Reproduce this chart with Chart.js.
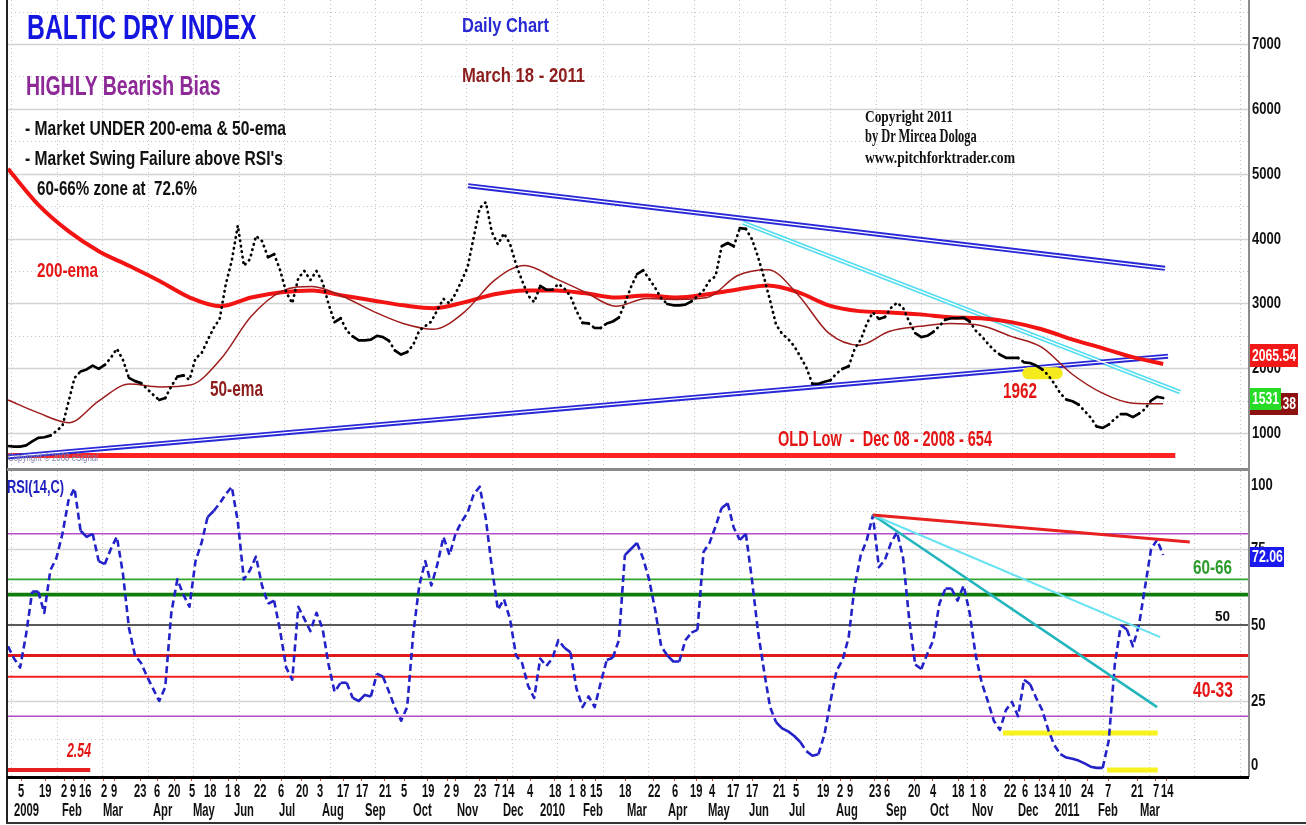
<!DOCTYPE html>
<html><head><meta charset="utf-8"><title>Baltic Dry Index</title>
<script src="https://cdn.jsdelivr.net/npm/chart.js@4.4.1/dist/chart.umd.min.js"></script>
<style>
html,body{margin:0;padding:0;background:#fff;overflow:hidden;}
#wrap{position:relative;width:1306px;height:825px;background:#fff;overflow:hidden;}
#c1{position:absolute;left:0;top:0;}
#c2{position:absolute;left:0;top:469px;}
.t{position:absolute;white-space:pre;transform-origin:0 0;margin:0;padding:0;}
.ln,.box{position:absolute;}
</style></head>
<body><div id="wrap">
<canvas id="c1" width="1306" height="469"></canvas>
<canvas id="c2" width="1306" height="356"></canvas>
</div>
<script>
// ---------- DATA ----------
// Daily close sampled every 3 sessions, from late Dec 2008 to 18 Mar 2011
const price = [800,790,790,810,870,925,935,960,1030,1110,
 1480,1850,1950,1980,2040,1990,2050,2160,2300,2130,
 1850,1800,1770,1680,1590,1510,1540,1720,1870,1890,
 1820,2150,2230,2430,2620,2760,3290,3660,4200,3580,
 3680,4040,3960,3710,3760,3510,3170,3000,3390,3500,
 3360,3500,3330,2990,2710,2770,2580,2490,2430,2430,
 2440,2500,2480,2420,2270,2210,2250,2360,2580,2650,
 2720,2900,3070,3000,3150,3350,3560,4020,4470,4560,
 4100,3910,4080,3920,3600,3350,3120,3020,3270,3210,
 3210,3300,3230,3110,2880,2700,2690,2620,2620,2690,
 2720,2780,3000,3250,3450,3510,3380,3240,3080,2990,
 2970,2970,2980,3030,3110,3200,3350,3420,3880,3930,
 3880,4160,4150,3990,3720,3400,3045,2670,2530,2450,
 2340,2180,2010,1760,1760,1790,1815,1920,1990,2030,
 2300,2440,2690,2860,2760,2790,2930,3010,2930,2720,
 2540,2480,2500,2560,2650,2750,2770,2770,2780,2720,
 2580,2490,2380,2280,2210,2160,2160,2160,2090,2080,
 2040,1980,1890,1760,1610,1515,1490,1440,1340,1240,
 1100,1080,1130,1220,1290,1290,1245,1300,1370,1500,
 1560,1540];
const rsi = [43,39,36,47,61,61,54,68,72,80,
 91,95,81,79,80,71,70,75,79,67,
 49,40,37.5,33,29,25,29.6,54,65,60,
 56,71,77,85.5,87.5,90,93,95.5,84,65,
 68,72.5,63,57,58,48,36,32,56,52,
 48,54,49,37,28,31,31,26,25,27,
 26.5,34,33,28,22.7,18.5,23,47,63,71,
 63,70,79,73,80,84,87,93,95.5,85,
 69,55,58.5,52,40,37.5,30,26,39,36.5,
 39,45,42.5,41,29,23,26.5,23,31,38.5,
 39.2,45,73,75,77,72,65,55,43,40,
 38,38,45,47.5,48.4,74,77,82.5,88.5,90,
 82,78,80,65,48,35,23,18,16,15,
 13.5,11.5,8.5,7,7.5,14,25,35,38.5,46,
 63,73,78,86,69,71.5,77,80.6,72,52,
 37,35.5,40.5,45,57,62,62,58,63,54,
 40,31,25,18.5,15.5,22,24.7,20,32,30.5,
 26,22,15.5,10.5,7.5,6.4,6,5.4,4.5,3.4,
 3,3,12,37,50,48.5,43,50,62.5,75,
 78,73];
// Moving averages, sampled at 39 even steps over the same span
const ema200 = [5075,4520,4110,3800,3575,3340,3085,2955,3090,3170,
 3200,3120,3045,2970,2925,3015,3140,3200,3200,3155,
 3090,3120,3090,3140,3215,3275,3170,2970,2880,2860,
 2830,2785,2770,2710,2600,2445,2310,2170,2065];
const ema50 = [1510,1310,1160,1500,1755,1710,1740,2140,2800,3185,
 3260,3110,2880,2690,2600,2860,3355,3585,3385,3170,
 2955,3075,3060,3090,3430,3520,3125,2540,2355,2570,
 2645,2690,2660,2490,2325,1910,1615,1460,1450];

// Axis ticks
const priceTicks = [1000,2000,3000,4000,5000,6000,7000];
const priceMinorGrid = [1500,2500,3500,4500,5500,6500,7500];
const rsiTicks = [0,25,50,75,100];
const rsiLevels = [80,65,60,50,40,33,20];
const rsiLightGrid = [75,25];
const rsiDottedGrid = [87.5,12.5];
const dayTickPos = [2.15,6.12,9.26,10.75,12.73,15.87,17.53,21.83,24.64,27.45,
 30.42,33.4,36.38,37.86,41.67,45.14,48.61,51.59,55.39,58.53,
 62.33,65.48,69.44,72.59,74.07,78.04,80.85,82.67,86.31,90.44,
 93.25,95.07,97.22,102.02,106.81,110.28,113.76,116.49,119.87,123.02,
 127.48,130.29,134.75,137.57,139.22,143.35,145.42,149.9,152.94,157.08,
 159.56,161.21,165.67,168.15,170.63,172.62,174.77,178.49,181.88,186.76,
 189.81,191.63];
const dayTickText = ['5','19','2','9','16','2','9','23','6','20',
 '5','18','1','8','22','6','20','3','17','17',
 '21','5','19','2','9','23','7','14','4','18',
 '1','8','15','18','22','6','19','4','17','17',
 '21','5','19','2','9','23','6','20','4','18',
 '1','8','22','6','13','4','10','24','7','21',
 '7','14'];
const monthTickPos = [3.14,10.58,17.36,25.63,32.41,39.02,46.13,53.74,60.68,68.45,76.06,83.5,89.95,
 96.73,104.0,110.78,117.56,124.17,130.46,138.72,146.83,153.94,161.21,168.65,175.1,181.88,188.82];
const monthTickText = ['2009','Feb','Mar','Apr','May','Jun','Jul','Aug','Sep','Oct','Nov','Dec','2010',
 'Feb','Mar','Apr','May','Jun','Jul','Aug','Sep','Oct','Nov','Dec','2011','Feb','Mar'];

// Trend lines (x in 3-session samples, y in index / RSI units)
const upperChX = [76.06,191.3],  upperChY = [4815,3540];
const lowerChX = [-0.17,191.8],  lowerChY = [631,2185];
const cyanX = [121.5,193.8],     cyanY = [4246,1630];
const oldLowX = [-0.17,193],     oldLowY = [654,654];
const zoneX = [168.7,173.4],     zoneY = [1923,1923];
const rsiRedX = [143.0,195.4],   rsiRedY = [86.2,77.3];
const rsiCyanX = [143.0,190.5],  rsiCyanY = [86.2,46];
const rsiTealX = [143.0,190.0],  rsiTealY = [86.2,23];
const rsiYel1X = [164.5,190.1],  rsiYel1Y = [14.5,14.5];
const rsiYel2X = [181.7,190.1],  rsiYel2Y = [2.3,2.3];
const rsiLowX = [-0.17,13.6],    rsiLowY = [2.3,2.3];

// ---------- HELPERS ----------
const NARROW = "'Liberation Sans Narrow','Arial Narrow','Liberation Sans',Arial,sans-serif";
const SERIF = "'Liberation Serif','Times New Roman',serif";
const X_MIN = -0.165, X_MAX = 205.19;
const emaStep = (price.length - 1) / (ema200.length - 1);
const pts = (vals, step) => vals.map((v,i)=>({x:i*step, y:v}));
const seg = (xs, ys) => xs.map((x,i)=>({x:x, y:ys[i]}));
const steep = (c,k) => Math.abs(c.p1.y-c.p0.y) > k*Math.abs(c.p1.x-c.p0.x);
const base = o => Object.assign({pointRadius:0,pointHoverRadius:0,fill:false,tension:0,borderCapStyle:'butt'}, o);

function hline(ctx,a,y,color,w,dash){
  ctx.beginPath(); ctx.strokeStyle=color; ctx.lineWidth=w; ctx.setLineDash(dash||[]);
  ctx.moveTo(a.left,y); ctx.lineTo(a.right,y); ctx.stroke();
}
function vdots(ctx,a,xs){
  ctx.strokeStyle='#c2c2c2'; ctx.lineWidth=1; ctx.setLineDash([1,3]);
  for(let v=0.5; v<=xs.max; v+=7.523){
    const px=Math.round(xs.getPixelForValue(v))+0.5;
    ctx.beginPath(); ctx.moveTo(px,a.top); ctx.lineTo(px,a.bottom); ctx.stroke();
  }
}

const priceGrid = {id:'pgrid', beforeDatasetsDraw(ch){
  const {ctx, chartArea:a, scales:{x,y}} = ch; ctx.save();
  vdots(ctx,a,x);
  priceMinorGrid.forEach(v=>hline(ctx,a,Math.round(y.getPixelForValue(v))+0.5,'#c4c4c4',1,[1,3]));
  priceTicks.forEach(v=>hline(ctx,a,Math.round(y.getPixelForValue(v))+0.5,'#d2d2d2',1.5));
  ctx.restore();
}};
const levelStyle = [['#b24ccc',1.6],['#2fa52f',1.6],['#0e7d0e',3.6],['#5a5a5a',1.8],['#e01a1a',3],['#f02020',2],['#b24ccc',1.6]];
const rsiGrid = {id:'rgrid', beforeDatasetsDraw(ch){
  const {ctx, chartArea:a, scales:{x,y}} = ch; ctx.save();
  vdots(ctx,a,x);
  rsiDottedGrid.forEach(v=>hline(ctx,a,Math.round(y.getPixelForValue(v))+0.5,'#c4c4c4',1,[1,3]));
  rsiLightGrid.forEach(v=>hline(ctx,a,Math.round(y.getPixelForValue(v))+0.5,'#d4d4d4',1.3));
  rsiLevels.forEach((v,i)=>hline(ctx,a,y.getPixelForValue(v),levelStyle[i][0],levelStyle[i][1]));
  ctx.restore();
}};

const commonOpts = (yMin,yMax,padBottom,xAxis) => ({
  responsive:false, animation:false, events:[],
  layout:{padding:{left:7,right:0,top:(xAxis?2:0),bottom:padBottom}},
  plugins:{legend:{display:false},tooltip:{enabled:false}},
  scales:{
    x: xAxis || {type:'linear',min:X_MIN,max:X_MAX,display:false},
    y: {type:'linear',position:'right',min:yMin,max:yMax,
        afterFit(s){s.width=57;},
        ticks:{display:false}, grid:{display:false}, border:{display:false}}
  }
});

// ---------- PRICE PANEL ----------
const ch1 = new Chart(document.getElementById('c1'), {
  type:'line',
  data:{datasets:[
    base({data:pts(price,1), borderColor:'#000', borderWidth:2.7, borderCapStyle:'round', borderJoinStyle:'round', order:1,
          segment:{borderDash:c=>steep(c,0.7)?[0.5,5]:undefined}}),
    base({data:pts(ema50,emaStep), borderColor:'#9e1c1c', borderWidth:1.5, cubicInterpolationMode:'monotone', order:2}),
    base({data:pts(ema200,emaStep), borderColor:'#f21313', borderWidth:4, cubicInterpolationMode:'monotone', order:3}),
    base({data:seg(zoneX,zoneY), borderColor:'#f4ea1c', borderWidth:12, borderCapStyle:'round', order:4}),
    base({data:seg(upperChX,upperChY), borderColor:'#ffffff', borderWidth:1.3, order:5}),
    base({data:seg(lowerChX,lowerChY), borderColor:'#ffffff', borderWidth:1.3, order:5}),
    base({data:seg(cyanX,cyanY), borderColor:'#ffffff', borderWidth:1.3, order:5}),
    base({data:seg(upperChX,upperChY), borderColor:'#2828d8', borderWidth:5, order:6}),
    base({data:seg(lowerChX,lowerChY), borderColor:'#2828d8', borderWidth:5, order:6}),
    base({data:seg(cyanX,cyanY), borderColor:'#52dcef', borderWidth:4.5, order:6}),
    base({data:seg(oldLowX,oldLowY), borderColor:'#ff2222', borderWidth:5, order:7})
  ]},
  options: commonOpts(445,7679,0,null),
  plugins:[priceGrid]
});

// ---------- RSI PANEL ----------
const ch2 = new Chart(document.getElementById('c2'), {
  type:'line',
  data:{datasets:[
    base({data:seg(rsiRedX,rsiRedY), borderColor:'#e82020', borderWidth:3, order:1}),
    base({data:seg(rsiCyanX,rsiCyanY), borderColor:'#66e2f2', borderWidth:2, order:1}),
    base({data:seg(rsiTealX,rsiTealY), borderColor:'#22b6bc', borderWidth:2.6, order:1}),
    base({data:pts(rsi,1), borderColor:'#2222c8', borderWidth:2.6, order:2, borderJoinStyle:'round',
          segment:{borderDash:c=>steep(c,1.2)?[7,4]:undefined}}),
    base({data:seg(rsiYel1X,rsiYel1Y), borderColor:'#f6f21e', borderWidth:5, order:3}),
    base({data:seg(rsiYel2X,rsiYel2Y), borderColor:'#f6f21e', borderWidth:5, order:3}),
    base({data:seg(rsiLowX,rsiLowY), borderColor:'#e82020', borderWidth:4, order:3})
  ]},
  options: commonOpts(0,100.66,3,{
    type:'linear',min:X_MIN,max:X_MAX,position:'bottom',
    afterBuildTicks(s){ s.ticks = dayTickPos.map(v=>({value:v})); },
    afterFit(s){ s.height = 45; },
    ticks:{display:false},
    grid:{drawOnChartArea:false,drawTicks:true,tickLength:4,tickColor:'#cc4444',tickWidth:1},
    border:{display:false}
  }),
  plugins:[rsiGrid]
});

// ---------- TEXT (HTML) ----------
const wrap = document.getElementById('wrap');
const mc = document.createElement('canvas').getContext('2d');
function fstr(o,F){ return (o.style||'normal')+' '+(o.weight||'bold')+' '+F.toFixed(2)+'px '+(o.family||NARROW); }
function capRatio(o){ mc.font=fstr(o,100); return mc.measureText('H').actualBoundingBoxAscent/100; }
function natWidth(txt,o,F){ mc.font=fstr(o,F); return mc.measureText(txt).width; }
function addText(txt,o){
  let capTop=o.capTop, capBot=o.capBot;
  if(o.cy!==undefined){ capTop=o.cy-o.capH/2; capBot=o.cy+o.capH/2; }
  const F=(capBot-capTop)/capRatio(o);
  mc.font=fstr(o,F);
  const m=mc.measureText(txt);
  const fa=m.fontBoundingBoxAscent, fd=m.fontBoundingBoxDescent;
  const baseline=(F-(fa+fd))/2+fa;
  let sx=1;
  if(o.width) sx=o.width/m.width; else if(o.scale) sx=o.scale;
  let left=o.left;
  if(o.cx!==undefined) left=o.cx-m.width*sx/2;
  const d=document.createElement('div');
  d.className='t'; d.textContent=txt;
  d.style.font=fstr(o,F); d.style.lineHeight=F+'px';
  d.style.left=left+'px'; d.style.top=(capBot-baseline)+'px';
  d.style.color=o.color||'#000'; d.style.transform='scaleX('+sx.toFixed(4)+')';
  wrap.appendChild(d);
}
function addRect(cls,l,t,w,h,c){
  const d=document.createElement('div'); d.className=cls;
  d.style.cssText='left:'+l+'px;top:'+t+'px;width:'+w+'px;height:'+h+'px;background:'+c+';';
  wrap.appendChild(d);
}

// frame lines
addRect('ln',6,0,1.5,823,'#222');
addRect('ln',1248,0,2,777,'#8c8c8c');
addRect('ln',7,467.5,1242,3,'#8a8a8a');
addRect('ln',7,776,1242,2.5,'#000');
addRect('ln',6,822,1300,1.6,'#333');

// headings
addText('BALTIC DRY INDEX',{left:27,width:230,capTop:15,capBot:39,color:'#1515e0'});
addText('HIGHLY Bearish Bias',{left:26,width:195,capTop:76,capBot:95,color:'#8e2a98'});
addText('- Market UNDER 200-ema & 50-ema',{left:25,width:261,capTop:122,capBot:135.5,color:'#111'});
addText("- Market Swing Failure above RSI's",{left:25,width:258,capTop:152,capBot:165.5,color:'#111'});
addText('60-66% zone at  72.6%',{left:37,width:160,capTop:182,capBot:195.5,color:'#111'});
addText('Daily Chart',{left:462,width:87,capTop:18,capBot:32,color:'#2a2ad2'});
addText('March 18 - 2011',{left:462,width:123,capTop:68,capBot:82,color:'#8e1e1e'});
addText('Copyright 2011',{left:865,width:88,capTop:110.5,capBot:121.7,color:'#111',family:SERIF});
addText('by Dr Mircea Dologa',{left:865,width:112,capTop:131.7,capBot:143.3,color:'#111',family:SERIF});
addText('www.pitchforktrader.com',{left:865,width:150,capTop:151.5,capBot:162.7,color:'#111',family:SERIF});
addText('Copyright \u00a9 2008 eSignal',{left:8,width:90,capTop:455,capBot:462,color:'#8080a8',weight:'normal'});

// annotations
addText('200-ema',{left:37,width:61,capTop:263.3,capBot:277.3,color:'#e41414'});
addText('50-ema',{left:210,width:53,capTop:381.7,capBot:396.7,color:'#8e1c1c'});
addText('1962',{left:1003,width:34,capTop:383.3,capBot:398.3,color:'#e41414'});
addText('OLD Low  -  Dec 08 - 2008 - 654',{left:778,width:214,capTop:430.5,capBot:446.5,color:'#e41414'});
addText('RSI(14,C)',{left:7,width:57,capTop:480.5,capBot:493.3,color:'#2020c0'});
addText('2.54',{left:67,width:24,capTop:743.5,capBot:758,color:'#e41414',style:'italic'});
addText('60-66',{left:1193,width:39,capTop:560.5,capBot:575,color:'#2c9a2c'});
addText('50',{left:1215,width:15,capTop:610,capBot:620.7,color:'#111'});
addText('40-33',{left:1193,width:40,capTop:682,capBot:697.3,color:'#e41414'});

// axis labels
const kTick = 29/natWidth('7000',{},11.7/capRatio({}));
const yP = ch1.scales.y;
priceTicks.forEach(v=>addText(String(v),{left:1252,cy:yP.getPixelForValue(v),capH:11.7,scale:kTick,color:'#111'}));
const yR = ch2.scales.y, top2 = 469, aR = ch2.chartArea;
rsiTicks.forEach(v=>{
  let cy = top2 + yR.getPixelForValue(v);
  cy = Math.max(top2+aR.top+14, Math.min(top2+aR.bottom-12, cy));
  addText(String(v),{left:1251,cy:cy,capH:11.7,scale:kTick,color:'#111'});
});
const xB = ch2.scales.x;
const kDay = 12.4/natWidth('00',{},12.5/capRatio({}));
dayTickPos.forEach((p,i)=>addText(dayTickText[i],{cx:xB.getPixelForValue(p),cy:792,capH:12.5,scale:kDay,color:'#111'}));
const kMon = 25/natWidth('2009',{},12.5/capRatio({}));
monthTickPos.forEach((p,i)=>addText(monthTickText[i],{cx:xB.getPixelForValue(p),cy:811,capH:12.5,scale:kMon,color:'#111'}));

// last-value tags
addRect('box',1250,344,48,23,'#f21818');
addText('2065.54',{cx:1274,cy:355.5,capH:12,width:44,color:'#fff'});
addRect('box',1250,393,48,22,'#8c1212');
addText('1447.38',{cx:1274,cy:404,capH:12,width:44,color:'#fff'});
addRect('box',1250,388,31,22,'#26dc26');
addText('1531',{cx:1265,cy:399,capH:12,width:27,color:'#fff'});
addRect('box',1250,547,34,20,'#1a1aee');
addText('72.06',{cx:1267,cy:557,capH:12,width:31,color:'#fff'});
</script></body></html>
